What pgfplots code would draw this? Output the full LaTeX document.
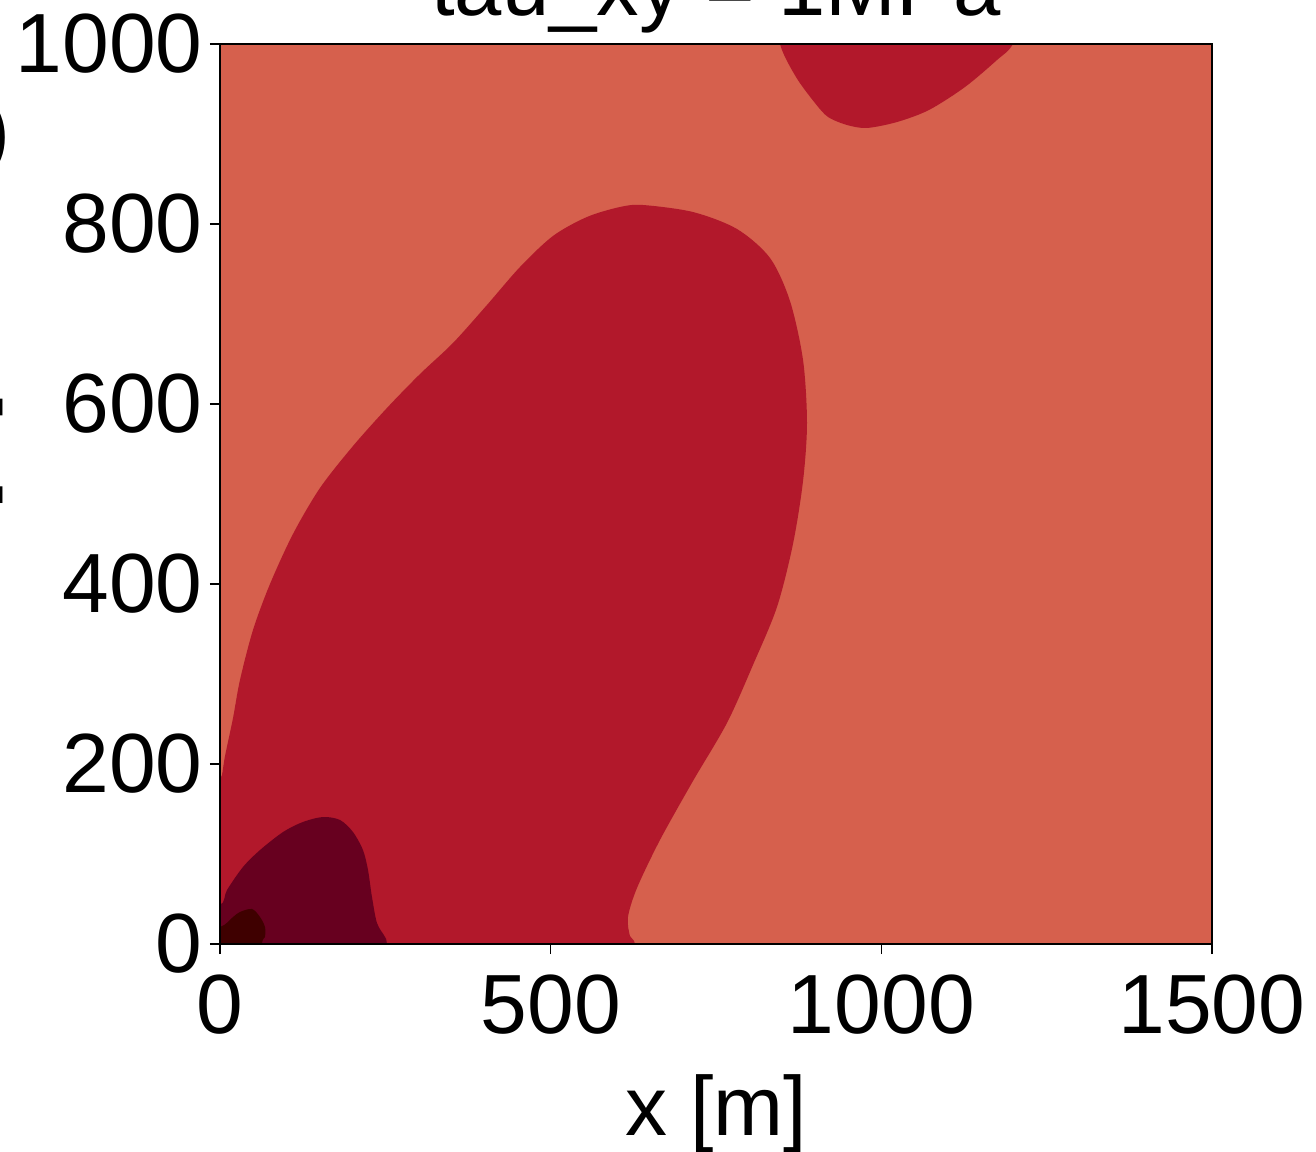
\documentclass[border=0pt]{standalone}
\usepackage{fontspec}
\setmainfont{Liberation Sans}
\usepackage{pgfplots}
\pgfplotsset{compat=1.18}

\definecolor{lvlA}{HTML}{D6604D}
\definecolor{lvlB}{HTML}{B2182B}
\definecolor{lvlC}{HTML}{67001F}
\definecolor{lvlD}{HTML}{3F0000}

\begin{document}
\begin{tikzpicture}
\begin{axis}[
    width=496pt, height=450pt,
    scale only axis,
    xmin=0, xmax=1500, ymin=0, ymax=1000,
    axis on top,
    axis background/.style={fill=lvlA},
    axis line style={line width=0.8pt},
    xtick={0,500,1000,1500},
    ytick={0,200,400,600,800,1000},
    xtick pos=bottom, ytick pos=left,
    tick align=outside,
    major tick length=5pt,
    every tick/.style={black, line width=0.8pt},
    /pgf/number format/1000 sep={},
    /pgf/number format/assume math mode=true,
    tick label style={font=\fontsize{42}{50}\selectfont, inner sep=0pt},
    xticklabel style={yshift=-10pt},
    yticklabel style={xshift=-3.5pt},
    title={tau\_xy = 1MPa},
    title style={font=\fontsize{42.5}{50}\selectfont, at={(0.5,1)}, anchor=base, yshift=8pt, inner sep=0pt},
    xlabel={x [m]},
    xlabel style={font=\fontsize{42}{50}\selectfont, at={(axis description cs:0.5,0)}, anchor=base, yshift=-95.5pt, inner sep=0pt},
    ylabel={z [m]},
    ylabel style={font=\fontsize{42}{50}\selectfont, at={(axis description cs:-0.2365,0.5111)}, anchor=base, inner sep=0pt},
]
% main crimson region
\addplot[draw=none, fill=lvlB, smooth, tension=0.5] coordinates {
(0,184.4) (3.0,187.8) (7.6,208.9) (19.7,251.1) (30.2,293.3) (49.9,348.9)
(75.6,400) (110.4,455.6) (151.2,506.7) (201.1,553.3) (252.5,595.6)
(302.4,633.3) (352.3,667.8) (403.7,710) (453.6,752.2) (503.5,786.7)
(554.9,807.8) (604.8,818.9) (639.6,821.1) (715.2,813.3) (781.8,794.4)
(831.7,762.2) (861.9,714.4) (881.6,648.9) (887.6,578.9) (881.6,514.4)
(866.4,444.4) (842.2,374.4) (805.9,310) (766.6,245.6) (715.2,181.1)
(665.3,115.6) (630.5,62.2) (616.9,30) (619.9,8.9) (627.5,0)
(640,-50) (300,-80) (-50,-50) (-50,184.4)
} -- cycle;
% crimson region at the top
\addplot[draw=none, fill=lvlB, smooth, tension=0.5] coordinates {
(840,1050) (846.8,1000) (871,963.3) (899.7,934.4) (919.4,918.9) (948.1,910)
(978.3,906.7) (1023.7,913.3) (1072.1,926.7) (1126.5,952.2) (1174.9,982.2)
(1199.1,1000) (1230,1050) (1000,1080)
} -- cycle;
% dark region
\addplot[draw=none, fill=lvlC, smooth, tension=0.5] coordinates {
(-50,40) (0,43.3) (10.6,60) (34.8,85.6) (60.5,104.4) (95.3,124.4) (125.5,135.6)
(155.7,141.1) (181.5,137.8) (201.1,124.4) (216.2,104.4) (223.8,82.2)
(229.8,52.2) (237.4,23.3) (249.5,7.8) (252.5,0) (262,-50) (100,-80) (-50,-50)
} -- cycle;
% darkest region
\addplot[draw=none, fill=lvlD, smooth, tension=0.5] coordinates {
(-50,15) (0,18.9) (19.7,30) (30.2,35.6) (48.4,38.9) (60.5,30) (68,18.9)
(68,7.8) (63.5,0) (60,-50) (0,-70) (-50,-50)
} -- cycle;
\end{axis}
\node[anchor=base east, inner sep=0pt, font=\fontsize{42}{50}\selectfont]
  at ([xshift=-104.5pt, yshift=-58pt]current axis.north west) {(a)};
\pgfresetboundingbox
\useasboundingbox ([xshift=-110pt,yshift=-103.5pt]current axis.south west)
  rectangle ([xshift=52pt,yshift=22pt]current axis.north east);
\end{tikzpicture}
\end{document}
